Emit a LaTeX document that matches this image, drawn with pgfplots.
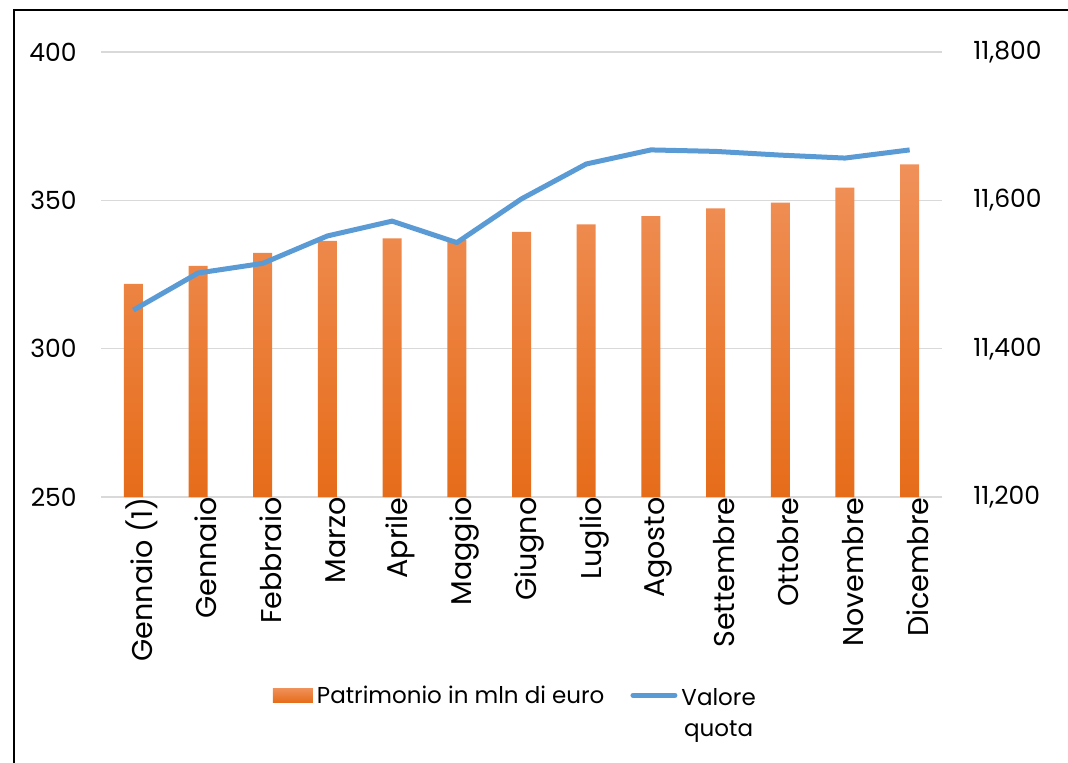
\documentclass[border=0pt]{standalone}
\usepackage{pgfplots}
\pgfplotsset{compat=1.18}
\usepackage{fontspec}
\setmainfont{Poppins}
\definecolor{barTop}{RGB}{240,145,90}
\definecolor{barBot}{RGB}{230,108,25}
\definecolor{lineBlue}{RGB}{91,155,213}
\definecolor{gridGray}{RGB}{217,217,217}
\begin{document}
\begin{tikzpicture}
\pgfplotsset{
  base/.style={
    at={(50.5pt,132.5pt)}, anchor=south west,
    scale only axis, width=420.5pt, height=222.5pt,
    xmin=-0.5, xmax=12.5,
    axis line style={draw=none},
    major tick length=0pt,
    scaled y ticks=false,
    yticklabel style={font=\fontsize{12.5}{15}\selectfont},
    xticklabel style={font=\fontsize{14.3}{16}\selectfont},
  }
}
\begin{axis}[base,
  y coord trafo/.code={\pgfmathparse{#1-250}},
  y coord inv trafo/.code={\pgfmathparse{#1+250}},
  ymin=250, ymax=400, ytick={250,300,350,400}, yticklabels={250,300,350,400},
  ymajorgrids, grid style={gridGray, line width=0.75pt},
  xtick={0,...,12},
  xticklabels={Gennaio (1),Gennaio,Febbraio,Marzo,Aprile,Maggio,Giugno,Luglio,Agosto,Settembre,Ottobre,Novembre,Dicembre},
  xticklabel style={rotate=90, anchor=east, inner sep=0pt, yshift=-4pt},
  yticklabel style={anchor=east, inner sep=0pt, xshift=-12pt},
]
\addplot[ybar, bar width=9.5pt, draw=none, top color=barTop, bottom color=barBot] coordinates {
(0,321.8) (1,327.9) (2,332.3) (3,336.3) (4,337.2) (5,336.6) (6,339.4)
(7,341.9) (8,344.7) (9,347.3) (10,349.2) (11,354.3) (12,362.1)};
\end{axis}
\begin{axis}[base,
  ymin=11200, ymax=11800, ytick={11200,11400,11600,11800},
  yticklabels={{11,200},{11,400},{11,600},{11,800}},
  yticklabel pos=right, xtick=\empty,
  yticklabel style={anchor=west, inner sep=0pt, xshift=15.5pt},
  legend style={at={(rel axis cs:0.2045,-0.411)}, anchor=north west, draw=none, fill=none,
    inner sep=0pt, outer sep=0pt, font=\fontsize{11.5}{15.5}\selectfont,
    /tikz/every even column/.append style={column sep=11pt}},
  legend columns=2,
]
\addlegendimage{legend image code/.code={\shade[draw=none,top color=barTop,bottom color=barBot] (0pt,-3pt) rectangle (20pt,4pt);}}
\addlegendentry{Patrimonio in mln di euro}
\addplot[lineBlue, line width=2.5pt, line join=round,
  legend image code/.code={\draw[line cap=round] (0pt,0.5pt) -- (21pt,0.5pt);}] coordinates {
(0,11452) (1,11502) (2,11515) (3,11552) (4,11572) (5,11543) (6,11602)
(7,11649) (8,11668) (9,11666) (10,11661) (11,11657) (12,11668)};
\addlegendentry{\begin{tabular}[t]{@{}c@{}}Valore\\quota\end{tabular}}
\end{axis}
\draw[line width=1pt] (7pt,-20pt) -- (7pt,376pt) -- (600pt,376pt);
\pgfresetboundingbox
\useasboundingbox (0pt,0pt) rectangle (534pt,381pt);
\end{tikzpicture}
\end{document}
